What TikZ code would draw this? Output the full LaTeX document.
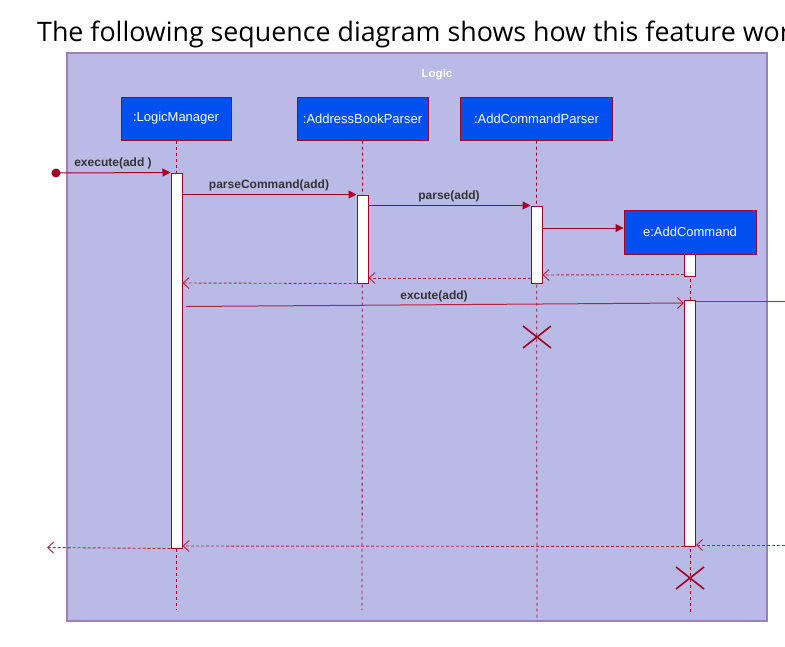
\documentclass[tikz,border=0pt]{standalone}
\usepackage{fontspec}
\setmainfont{Liberation Sans}
\newfontfamily\titlefont{Open Sans}
\usetikzlibrary{arrows.meta}
\definecolor{frameFill}{HTML}{B9BBE6}
\definecolor{frameLine}{HTML}{9D80B8}
\definecolor{boxFill}{HTML}{0050EF}
\definecolor{dred}{HTML}{A20025}
\definecolor{lbl}{HTML}{333333}
\begin{document}
\begin{tikzpicture}[x=1pt,y=-1pt,
  obj/.style={draw=dred, fill=boxFill, line width=1pt, text=white,
    font=\fontsize{13}{15}\selectfont, inner sep=0pt},
  act/.style={draw=dred, fill=white, line width=1pt, minimum width=11pt, inner sep=0pt},
  life/.style={dred, line width=0.8pt, dash pattern=on 3pt off 3pt},
  call/.style={dred, line width=1pt, -{Triangle[length=8pt,width=8pt]}},
  ret/.style={dred!85, line width=0.9pt, dash pattern=on 3pt off 2pt,
    -{Straight Barb[length=6pt,width=11pt]}},
  asyncmsg/.style={dred!85, line width=1pt, -{Straight Barb[length=6pt,width=11pt]}},
  lab/.style={text=lbl, font=\bfseries\fontsize{12}{14}\selectfont, inner sep=0pt},
  kill/.style={dred, line width=1.6pt}]
\useasboundingbox (0,0) rectangle (785,646);
\clip (0,0) rectangle (785,646);
\fill[white] (0,0) rectangle (785,646);

% title
\node[anchor=base west, inner sep=0pt, text=black,
  font=\titlefont\fontsize{26.8}{30}\selectfont] (title) at (37,41)
  {The following sequence diagram shows how this feature wor};

% frame
\node[draw=frameLine, fill=frameFill, line width=1.8pt, minimum width=700pt,
  minimum height=568pt, inner sep=0pt] (frame) at (417,337) {};
\node[text=white, font=\bfseries\fontsize{11.5}{13}\selectfont] (logic) at (437,75) {Logic};

% objects
\node[obj, minimum width=110pt, minimum height=43pt] (lm) at (176,118.5) {:LogicManager};
\node[obj, minimum width=131pt, minimum height=43pt] (abp) at (362.5,118.5) {:AddressBookParser};
\node[obj, minimum width=152pt, minimum height=43pt] (acp) at (536.5,118.5) {:AddCommandParser};
\node[obj, minimum width=132pt, minimum height=44pt]
  (ac) at (690,232) {e:AddCommand};

% lifeline ends
\coordinate (lmEnd) at (176,610);
\coordinate (abpEnd) at (362,610);
\coordinate (acpEnd) at (537,621);
\coordinate (acEnd) at (690,612);

\draw[life] (lm.south) -- (lmEnd);
\draw[life] (abp.south) -- (abpEnd);
\draw[life] (acp.south) -- (acpEnd);
\draw[life] (ac.south) -- (acEnd);

% activations
\node[act, minimum height=375pt] (lmA) at (176.5,360.5) {};
\node[act, minimum height=88pt] (abpA) at (362.5,239) {};
\node[act, minimum height=77pt] (acpA) at (536.5,244.5) {};
\node[act, minimum height=22pt] (acA1) at (690,265) {};
\node[act, minimum height=246pt] (acA2) at (690,423) {};

% found message
\node[circle, fill=dred, minimum size=9pt, inner sep=0pt] (start) at (56,173) {};
\draw[call] (start.center) -- (lmA.north west);
\node[lab] (l1) at (113,163) {execute(add )};

\draw[call] (lmA.east |- abpA.north) -- (abpA.north west);
\node[lab] (l2) at (269,185) {parseCommand(add)};

\draw[call] (abpA.east |- acpA.north) -- (acpA.north west);
\node[lab] (l3) at (449,196) {parse(add)};

\draw[call] (acpA.east |- 0,228) -- (ac.west |- 0,228);

\draw[ret] (acA1.south west) ++(0,-2) -- (acpA.east |- 0,275);
\draw[ret] (acpA.west |- 0,278) -- (abpA.east |- 0,278);
\draw[ret] (abpA.south west) -- (lmA.east |- 0,283);

\coordinate (exS) at (186,306.5);
\draw[asyncmsg] (exS) -- (acA2.north west |- 0,303);
\node[lab] (l4) at (434,296) {excute(add)};

\coordinate (outR) at (790,301);
\draw[dred!85, line width=1pt] (acA2.east |- outR) -- (outR);

\coordinate (inR) at (790,545);
\draw[ret] (inR) -- (acA2.east |- 0,545);
\draw[ret] (acA2.south west) -- (lmA.east |- 0,546);
\coordinate (outL) at (47,547.5);
\draw[ret] (lmA.south west) -- (outL);

% destructions
\draw[kill] (523,326) -- (551,348) (523,348) -- (551,326);
\draw[kill] (676,567) -- (704,589) (676,589) -- (704,567);
\end{tikzpicture}
\end{document}
